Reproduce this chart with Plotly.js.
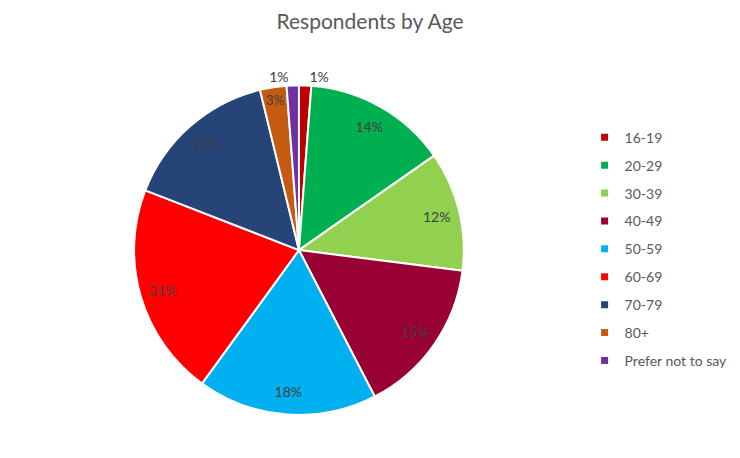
<!DOCTYPE html>
<html>
<head>
<meta charset="utf-8">
<script src="https://cdn.plot.ly/plotly-3.0.1.min.js"></script>
<style>
  html, body { margin: 0; padding: 0; background: #fff; }
  #chart { width: 740px; height: 458px; }
</style>
</head>
<body>
<div id="chart"></div>
<script>
var ageGroups = ["16-19", "20-29", "30-39", "40-49", "50-59", "60-69", "70-79", "80+", "Prefer not to say"];
var sharePct = [1.2, 14.1, 11.7, 15.4, 17.6, 20.9, 15.3, 2.6, 1.2];
var sliceColors = ["#C00000", "#00B050", "#92D050", "#990033", "#00B0F0", "#FF0000", "#264478", "#C55A11", "#7030A0"];
var labelPos = ["outside", "inside", "inside", "inside", "inside", "inside", "inside", "inside", "outside"];

var pieDomain = { x: [0.181, 0.627], y: [0.094, 0.814] };

var pie = {
  type: "pie",
  labels: ageGroups,
  values: sharePct,
  sort: false,
  direction: "clockwise",
  rotation: 0,
  marker: { colors: sliceColors, line: { color: "#ffffff", width: 2 } },
  textinfo: "none",
  hoverinfo: "label+percent",
  showlegend: false,
  domain: pieDomain
};

// same slices again as a clear ring, so the percent labels sit near the rim
var labelRing = {
  type: "pie",
  labels: ageGroups,
  values: sharePct,
  sort: false,
  direction: "clockwise",
  rotation: 0,
  hole: 0.72,
  marker: { colors: sliceColors.map(function () { return "rgba(0,0,0,0)"; }), line: { width: 0 } },
  texttemplate: "%{percent:.0%}",
  textposition: labelPos,
  insidetextorientation: "horizontal",
  textfont: { family: "Lato, sans-serif", size: 14, color: "#404040" },
  hoverinfo: "skip",
  showlegend: false,
  domain: pieDomain
};

// legend entries, one per age group, so the gap between rows can be set
var legendTraces = ageGroups.map(function (g, i) {
  return {
    type: "scatter",
    mode: "markers",
    x: [null], y: [null],
    name: g,
    legendgroup: "g" + i,
    marker: { symbol: "square", size: 7, color: sliceColors[i] },
    hoverinfo: "skip"
  };
});

var layout = {
  width: 740, height: 458,
  margin: { t: 0, r: 0, b: 0, l: 0 },
  paper_bgcolor: "#ffffff",
  plot_bgcolor: "#ffffff",
  title: {
    text: "Respondents by Age",
    x: 0.5, xanchor: "center",
    y: 0.952, yanchor: "middle",
    font: { family: "Lato, sans-serif", size: 21, color: "#595959" }
  },
  xaxis: { visible: false },
  yaxis: { visible: false },
  showlegend: true,
  legend: {
    x: 0.79, xanchor: "left",
    y: 0.456, yanchor: "middle",
    font: { family: "Lato, sans-serif", size: 14, color: "#595959" },
    tracegroupgap: 6.7,
    itemwidth: 30
  }
};

Plotly.newPlot("chart", [pie, labelRing].concat(legendTraces), layout, { displayModeBar: false, responsive: false });
</script>
</body>
</html>
